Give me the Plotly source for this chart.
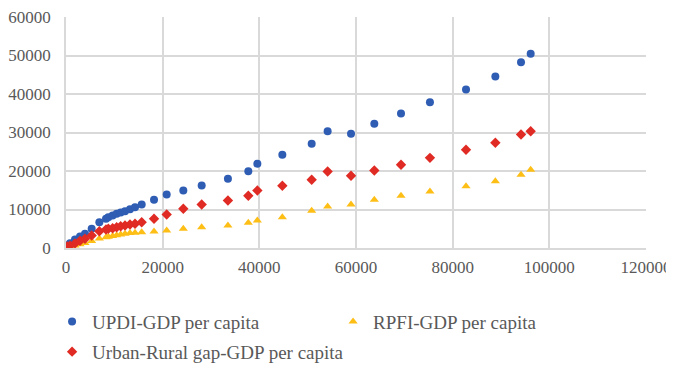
import plotly.graph_objects as go

gdp_per_capita = [280, 830, 1860, 2900, 3930, 5310, 6900, 8280, 8760, 9650, 10480, 11310,
                  12210, 13240, 14280, 15660, 18210, 20830, 24270, 28070, 33500, 37720,
                  39590, 44760, 50830, 54130, 58970, 63790, 69310, 75300, 82760, 88830,
                  94140, 96140]
updi = [650, 1250, 2210, 2990, 3690, 4990, 6700, 7580, 8000, 8440, 8880, 9220, 9560, 10080,
        10600, 11300, 12520, 13900, 14940, 16230, 17970, 19950, 21870, 24200, 27060, 30340,
        29660, 32260, 34940, 37870, 41170, 44550, 48260, 50440]
rpfi = [200, 350, 650, 1000, 1300, 1800, 2500, 2800, 2900, 3100, 3300, 3500, 3700, 3900,
        3950, 4100, 4290, 4550, 4990, 5400, 5840, 6540, 7140, 8000, 9660, 10780, 11300,
        12520, 13560, 14680, 16050, 17350, 19010, 20310]
gap = [400, 600, 1200, 1900, 2390, 3250, 4360, 4800, 4990, 5140, 5400, 5660, 5840, 6100,
       6280, 6700, 7580, 8700, 10180, 11300, 12340, 13560, 14940, 16150, 17710, 19870, 18750,
       20130, 21610, 23420, 25500, 27330, 29480, 30340]

series_names = ["UPDI-GDP per capita", "RPFI-GDP per capita", "Urban-Rural gap-GDP per capita"]
x_ticks = [0, 20000, 40000, 60000, 80000, 100000, 120000]
y_ticks = [0, 10000, 20000, 30000, 40000, 50000, 60000]

fig = go.Figure()
fig.add_trace(go.Scatter(x=gdp_per_capita, y=updi, mode="markers", name=series_names[0],
                         marker=dict(symbol="circle", size=8, color="#2F5DB4"),
                         legend="legend"))
fig.add_trace(go.Scatter(x=gdp_per_capita, y=rpfi, mode="markers", name=series_names[1],
                         marker=dict(symbol="triangle-up", size=8, color="#FDBE16"),
                         legend="legend"))
fig.add_trace(go.Scatter(x=gdp_per_capita, y=gap, mode="markers", name=series_names[2],
                         marker=dict(symbol="diamond", size=8, color="#E02B24"),
                         legend="legend2"))

fam = "Liberation Serif"
font = dict(family=fam, size=17, color="#595959")
lfont = dict(family=fam, size=19, color="#595959")
fig.update_layout(
    width=666, height=360,
    margin=dict(l=58, r=28, t=9, b=120, autoexpand=False),
    paper_bgcolor="white", plot_bgcolor="white",
    font=font,
    showlegend=True,
    legend=dict(orientation="h", x=-0.024, xanchor="left", y=-0.237, yanchor="top",
                entrywidth=236, entrywidthmode="pixels", itemwidth=30,
                font=lfont, traceorder="normal", bgcolor="rgba(0,0,0,0)"),
    legend2=dict(orientation="h", x=-0.024, xanchor="left", y=-0.367, yanchor="top",
                 itemwidth=30, font=lfont, bgcolor="rgba(0,0,0,0)"),
)
fig.update_xaxes(range=[0, 120000], tickvals=x_ticks, ticktext=[str(v) for v in x_ticks],
                 showgrid=True, gridcolor="#D9D9D9", gridwidth=1.5,
                 showline=True, linecolor="#D9D9D9", linewidth=1.5, automargin=False,
                 zeroline=False, ticks="", ticklabelstandoff=3, ticklabeloverflow="allow",
                 tickfont=font)
fig.update_yaxes(range=[0, 60000], tickvals=y_ticks, ticktext=[str(v) for v in y_ticks],
                 showgrid=True, gridcolor="#D9D9D9", gridwidth=1.5,
                 showline=True, linecolor="#D9D9D9", linewidth=1.5, automargin=False,
                 zeroline=False, ticks="", ticklabelstandoff=10, ticklabeloverflow="allow",
                 tickfont=font)

fig.write_html("out.html")
